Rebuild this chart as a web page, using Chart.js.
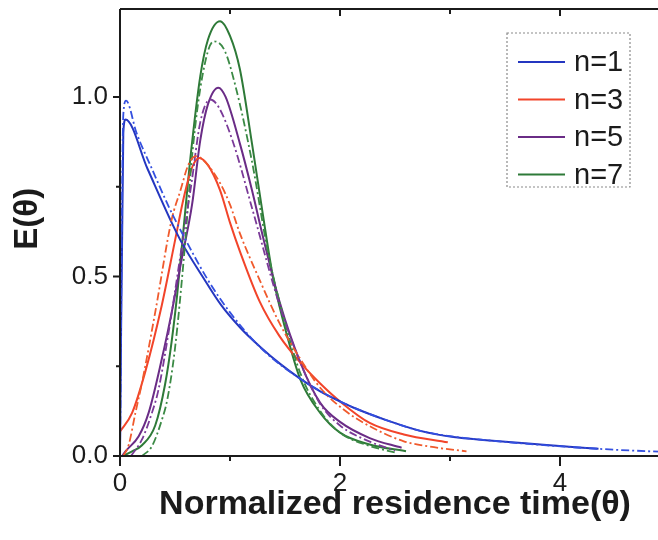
<!DOCTYPE html>
<html>
<head>
<meta charset="utf-8">
<title>E(θ)</title>
<script src="https://cdn.jsdelivr.net/npm/chart.js@4.4.1/dist/chart.umd.min.js"></script>
<style>
  html, body { margin: 0; padding: 0; background: #fff; overflow: hidden; }
  #wrap { width: 658px; height: 540px; overflow: hidden; }
</style>
</head>
<body>
<div id="wrap"><canvas id="rtd" width="672" height="540"></canvas></div>
<script>
// 讀圖數值 (θ, E)
const n1Theta    = [0, 0.03, 0.05, 0.25, 0.47, 0.56, 0.75, 0.92, 1.1, 1.27, 1.45, 1.64, 1.82, 2.0, 2.12, 2.42, 2.73, 3.03, 3.33, 3.82, 4.35];
const n1E        = [0, 0.90, 0.937, 0.80, 0.65, 0.595, 0.50, 0.42, 0.355, 0.305, 0.258, 0.215, 0.18, 0.152, 0.135, 0.10, 0.07, 0.053, 0.044, 0.032, 0.02];
const n1FitTheta = [0, 0.03, 0.055, 0.15, 0.29, 0.45, 0.6, 0.8, 1.0, 1.3, 1.64, 2.0, 2.42, 2.73, 3.03, 3.33, 3.82, 4.35, 4.9, 5.0];
const n1FitE     = [0, 0.95, 0.99, 0.90, 0.80, 0.69, 0.60, 0.49, 0.40, 0.295, 0.215, 0.152, 0.10, 0.07, 0.054, 0.044, 0.031, 0.02, 0.012, 0.011];

const n3Theta    = [0, 0.11, 0.23, 0.38, 0.50, 0.58, 0.65, 0.72, 0.80, 0.91, 1.0, 1.09, 1.27, 1.45, 1.64, 1.82, 2.0, 2.27, 2.58, 2.98];
const n3E        = [0.068, 0.12, 0.235, 0.42, 0.60, 0.72, 0.80, 0.83, 0.81, 0.74, 0.65, 0.57, 0.43, 0.334, 0.26, 0.202, 0.152, 0.092, 0.06, 0.038];
const n3FitTheta = [0.03, 0.08, 0.14, 0.2, 0.32, 0.47, 0.55, 0.62, 0.69, 0.77, 0.91, 1.0, 1.09, 1.27, 1.45, 1.64, 1.82, 2.03, 2.27, 2.58, 2.82, 3.15];
const n3FitE     = [0.0, 0.032, 0.12, 0.204, 0.40, 0.659, 0.74, 0.81, 0.835, 0.82, 0.76, 0.70, 0.62, 0.49, 0.37, 0.27, 0.19, 0.13, 0.083, 0.041, 0.026, 0.013];

const n5Theta    = [0.02, 0.05, 0.17, 0.26, 0.38, 0.47, 0.56, 0.655, 0.73, 0.80, 0.894, 0.96, 1.09, 1.2, 1.3, 1.45, 1.64, 1.82, 2.0, 2.27, 2.56];
const n5E        = [0.0, 0.013, 0.055, 0.12, 0.27, 0.40, 0.547, 0.70, 0.88, 0.98, 1.026, 1.0, 0.87, 0.74, 0.61, 0.43, 0.26, 0.148, 0.095, 0.05, 0.023];
const n5FitTheta = [0.1, 0.2, 0.29, 0.35, 0.45, 0.55, 0.65, 0.73, 0.82, 0.9, 1.03, 1.21, 1.45, 1.64, 1.82, 2.0, 2.27, 2.5];
const n5FitE     = [0.0, 0.046, 0.12, 0.185, 0.36, 0.56, 0.76, 0.93, 0.993, 0.97, 0.872, 0.68, 0.42, 0.26, 0.145, 0.085, 0.04, 0.015];

const n7Theta    = [0.03, 0.11, 0.2, 0.32, 0.41, 0.47, 0.52, 0.58, 0.64, 0.73, 0.8, 0.91, 1.0, 1.09, 1.2, 1.3, 1.39, 1.52, 1.64, 1.82, 2.0, 2.27, 2.6];
const n7E        = [0.0, 0.013, 0.03, 0.085, 0.20, 0.32, 0.45, 0.64, 0.83, 1.058, 1.16, 1.211, 1.17, 1.077, 0.87, 0.67, 0.50, 0.334, 0.213, 0.12, 0.065, 0.032, 0.013];
const n7FitTheta = [0.2, 0.29, 0.38, 0.43, 0.5, 0.58, 0.66, 0.75, 0.85, 0.95, 1.05, 1.2, 1.35, 1.52, 1.64, 1.82, 2.0, 2.27, 2.5];
const n7FitE     = [0.0, 0.027, 0.10, 0.157, 0.30, 0.55, 0.85, 1.06, 1.155, 1.13, 1.03, 0.82, 0.56, 0.35, 0.23, 0.125, 0.065, 0.028, 0.01];

const seriesLabels = ['n=1', 'n=3', 'n=5', 'n=7'];
const xTicks = [0, 1, 2, 3, 4];
const yTicks = [0, 0.25, 0.5, 0.75, 1.0];

const FONT = '"Liberation Sans", Arial, Helvetica, sans-serif';
const INK = '#1b1b1b';

function toPoints(xs, ys) {
    return xs.map((x, i) => ({ x: x, y: ys[i] }));
}

function solid(label, xs, ys, color) {
    return {
        label: label, data: toPoints(xs, ys), borderColor: color, borderWidth: 2,
        showInLegend: true
    };
}

function dashDot(xs, ys, color) {
    return {
        label: '', data: toPoints(xs, ys), borderColor: color, borderWidth: 1.8,
        borderDash: [8, 3, 2, 3], showInLegend: false
    };
}

const datasets = [
    dashDot(n1FitTheta, n1FitE, '#3450e0'),
    dashDot(n3FitTheta, n3FitE, '#f05a2c'),
    dashDot(n5FitTheta, n5FitE, '#7a3a98'),
    dashDot(n7FitTheta, n7FitE, '#3b8a45'),
    solid(seriesLabels[0], n1Theta, n1E, '#2436c0'),
    solid(seriesLabels[1], n3Theta, n3E, '#f2442a'),
    solid(seriesLabels[2], n5Theta, n5E, '#6a2c86'),
    solid(seriesLabels[3], n7Theta, n7E, '#2e7a38')
];

// 座標軸框線與刻度
const axesFrame = {
    id: 'axesFrame',
    afterDraw(chart) {
        const { ctx, chartArea: a, scales: { x, y } } = chart;
        ctx.save();
        ctx.strokeStyle = INK;
        ctx.lineWidth = 2;
        ctx.beginPath();
        ctx.moveTo(a.left, a.top); ctx.lineTo(a.right + 10, a.top);
        ctx.moveTo(a.left, a.top); ctx.lineTo(a.left, a.bottom);
        ctx.moveTo(a.left - 1, a.bottom); ctx.lineTo(a.right + 10, a.bottom);
        xTicks.forEach(v => {
            const px = x.getPixelForValue(v);
            const major = v % 2 === 0;
            ctx.moveTo(px, a.bottom); ctx.lineTo(px, a.bottom + (major ? 10 : 5));
            if (v > 0) { ctx.moveTo(px, a.top); ctx.lineTo(px, a.top + (major ? 7 : 5)); }
        });
        yTicks.forEach(v => {
            const py = y.getPixelForValue(v);
            const major = Math.abs(v * 2 - Math.round(v * 2)) < 1e-9;
            ctx.moveTo(a.left, py); ctx.lineTo(a.left - (major ? 7 : 4), py);
        });
        ctx.stroke();
        ctx.restore();
    }
};

// 圖例方框 (虛線邊框)
const boxLegend = {
    id: 'boxLegend',
    afterDraw(chart) {
        const ctx = chart.ctx;
        const items = chart.data.datasets.filter(d => d.showInLegend);
        ctx.save();
        ctx.fillStyle = '#fff';
        ctx.fillRect(507, 33, 123, 154);
        ctx.setLineDash([2, 2]);
        ctx.strokeStyle = '#8a8a8a';
        ctx.lineWidth = 1.2;
        ctx.strokeRect(507, 33, 123, 154);
        ctx.setLineDash([]);
        ctx.font = '29px ' + FONT;
        ctx.textBaseline = 'middle';
        items.forEach((d, k) => {
            const ly = 62 + k * 37.5;
            ctx.strokeStyle = d.borderColor;
            ctx.lineWidth = 2;
            ctx.beginPath();
            ctx.moveTo(518, ly); ctx.lineTo(565, ly);
            ctx.stroke();
            ctx.fillStyle = INK;
            ctx.fillText(d.label, 574, ly + 1);
        });
        ctx.restore();
    }
};

const ctx = document.getElementById('rtd').getContext('2d');
new Chart(ctx, {
    type: 'line',
    data: { datasets: datasets },
    options: {
        responsive: false,
        animation: false,
        layout: { padding: { top: 9, right: 2, left: 0, bottom: 0 } },
        elements: {
            point: { radius: 0, hoverRadius: 0 },
            line: { cubicInterpolationMode: 'monotone', fill: false }
        },
        plugins: {
            legend: { display: false },
            tooltip: { enabled: false }
        },
        scales: {
            x: {
                type: 'linear', min: 0, max: 5,
                afterBuildTicks: s => { s.ticks = xTicks.map(v => ({ value: v })); },
                afterFit: s => { s.height = 84; s.paddingLeft = 0; s.paddingRight = 0; },
                grid: { display: false, drawTicks: false },
                border: { display: false },
                ticks: {
                    padding: 12, color: INK, maxRotation: 0,
                    font: { size: 26, family: FONT },
                    callback: v => (v % 2 === 0 ? String(v) : '')
                },
                title: {
                    display: true, text: 'Normalized residence time(θ)', color: INK,
                    font: { size: 34, weight: 'bold', family: FONT },
                    padding: { top: 0, bottom: 15 }
                }
            },
            y: {
                type: 'linear', min: 0, max: 1.245,
                afterBuildTicks: s => { s.ticks = yTicks.map(v => ({ value: v })); },
                afterFit: s => { s.width = 120; s.paddingTop = 0; s.paddingBottom = 0; },
                grid: { display: false, drawTicks: false },
                border: { display: false },
                ticks: {
                    padding: 12, color: INK,
                    font: { size: 26, family: FONT },
                    callback: v => (Math.abs(v * 2 - Math.round(v * 2)) < 1e-9 ? v.toFixed(1) : '')
                },
                title: {
                    // 前置空白讓標題略往上移
                    display: true, text: '   E(θ)', color: INK,
                    font: { size: 33, weight: 'bold', family: FONT },
                    padding: { top: 8, bottom: 0 }
                }
            }
        }
    },
    plugins: [axesFrame, boxLegend]
});
</script>
</body>
</html>
